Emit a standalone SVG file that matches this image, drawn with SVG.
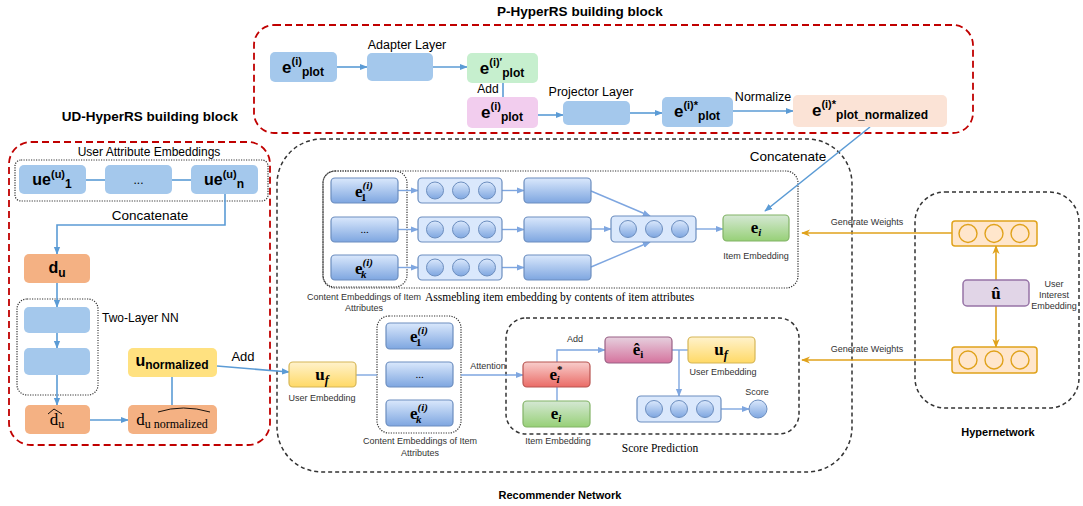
<svg xmlns="http://www.w3.org/2000/svg" width="1083" height="506" viewBox="0 0 1083 506">
<defs>
<style>
.t{font-family:"Liberation Sans",Arial,sans-serif;fill:#000}
.sm{font-family:"Liberation Sans",Arial,sans-serif;fill:#333;font-size:9px;text-anchor:middle}
.m{font-family:"Liberation Sans",Arial,sans-serif;font-weight:bold;fill:#000;text-anchor:middle}
.sf{font-family:"Liberation Serif","Times New Roman",serif;fill:#000}
.mf{font-family:"Liberation Serif","Times New Roman",serif;font-weight:bold;fill:#000;text-anchor:middle}
.red{fill:none;stroke:#c00000;stroke-width:1.8;stroke-dasharray:7 4}
.gd{fill:none;stroke:#333;stroke-width:1.5;stroke-dasharray:4 3}
.dot{fill:none;stroke:#333;stroke-width:1.2;stroke-dasharray:1.2 1.3}
.pb{fill:#a4c8ec}
.pg{fill:#c6efce}
.pp{fill:#f2cdee}
.pe{fill:#fbe3d6}
.po{fill:#f4b183}
.py{fill:#ffe180}
.c{stroke:#5b9bd5;stroke-width:1.6;fill:none}
.rc{stroke:#7ea6e0;stroke-width:1.4;fill:none}
.oc{stroke:#e0a21b;stroke-width:1.6;fill:none}
.rb{fill:url(#gB);stroke:#6c8ebf;stroke-width:1.2}
.row{fill:#dae8fc;stroke:#6c8ebf;stroke-width:1.2}
.cir{fill:url(#gB);stroke:#6c8ebf;stroke-width:1}
.rg{fill:url(#gG);stroke:#82b366;stroke-width:1.2}
.rr{fill:url(#gR);stroke:#b85450;stroke-width:1.2}
.rp{fill:url(#gP);stroke:#996185;stroke-width:1.2}
.ry{fill:url(#gY);stroke:#d6b656;stroke-width:1.2}
.ob{fill:#ffe6cc;stroke:#e0a21b;stroke-width:1.5}
.oci{fill:#ffe6cc;stroke:#e0a21b;stroke-width:1.4}
.pu{fill:#e1d5e7;stroke:#9673a6;stroke-width:1.5}
</style>
<linearGradient id="gB" x1="0" y1="0" x2="0" y2="1"><stop offset="0" stop-color="#dae8fc"/><stop offset="1" stop-color="#7ea6e0"/></linearGradient>
<linearGradient id="gG" x1="0" y1="0" x2="0" y2="1"><stop offset="0" stop-color="#d5e8d4"/><stop offset="1" stop-color="#97d077"/></linearGradient>
<linearGradient id="gR" x1="0" y1="0" x2="0" y2="1"><stop offset="0" stop-color="#f8cecc"/><stop offset="1" stop-color="#ea6b66"/></linearGradient>
<linearGradient id="gP" x1="0" y1="0" x2="0" y2="1"><stop offset="0" stop-color="#e6d0de"/><stop offset="1" stop-color="#d5739d"/></linearGradient>
<linearGradient id="gY" x1="0" y1="0" x2="0" y2="1"><stop offset="0" stop-color="#fff2cc"/><stop offset="1" stop-color="#ffd966"/></linearGradient>
<marker id="ab" viewBox="0 0 10 10" refX="9" refY="5" markerWidth="8" markerHeight="8" markerUnits="userSpaceOnUse" orient="auto"><path d="M0,1 L10,5 L0,9 z" fill="#5b9bd5"/></marker>
<marker id="ar" viewBox="0 0 10 10" refX="9" refY="5" markerWidth="8" markerHeight="8" markerUnits="userSpaceOnUse" orient="auto"><path d="M0,1 L10,5 L0,9 z" fill="#7ea6e0"/></marker>
<marker id="ao" viewBox="0 0 10 10" refX="9" refY="5" markerWidth="9" markerHeight="9" markerUnits="userSpaceOnUse" orient="auto"><path d="M0,1 L10,5 L0,9 L3,5 z" fill="#e0a21b"/></marker>
</defs>
<rect width="1083" height="506" fill="#fff"/>

<!-- containers -->
<g id="containers">
<text class="m" x="580" y="16" font-size="13.5">P-HyperRS building block</text>
<rect class="red" x="254" y="25" width="719" height="108" rx="20"/>
<text class="m" x="150" y="121" font-size="13.5">UD-HyperRS building block</text>
<rect class="red" x="9" y="142" width="261" height="303" rx="22"/>
<rect class="gd" x="277" y="139" width="575" height="333" rx="45"/>
<text class="m" x="560" y="499" font-size="11">Recommender Network</text>
<rect class="gd" x="915" y="192" width="164" height="216" rx="30"/>
<text class="m" x="998" y="436" font-size="11">Hypernetwork</text>
<rect class="dot" x="323" y="171" width="475" height="117" rx="12"/>
<rect class="dot" x="323" y="171" width="84" height="116" rx="12"/>
<rect class="dot" x="377" y="316" width="84" height="117" rx="12"/>
<rect class="gd" x="506" y="318" width="293" height="116" rx="20"/>
<rect class="dot" x="15" y="160" width="253" height="41" rx="6"/>
<rect class="dot" x="17" y="299" width="81" height="96" rx="10"/>
<text class="t" x="149" y="156" font-size="12" text-anchor="middle">User Attribute Embeddings</text>
<text class="t" x="102" y="322" font-size="12">Two-Layer NN</text>
<text class="sm" x="364" y="300">Content Embeddings of Item</text>
<text class="sm" x="364" y="311">Attributes</text>
<text class="sf" x="425" y="301" font-size="11.5">Assmebling item embedding by contents of item attributes</text>
<text class="sm" x="420" y="444">Content Embeddings of Item</text>
<text class="sm" x="420" y="456">Attributes</text>
<text class="sf" x="660" y="452" font-size="11.5" text-anchor="middle">Score Prediction</text>
</g>

<!-- connectors -->
<g id="connectors">
<line class="c" x1="337" y1="67" x2="367" y2="67" marker-end="url(#ab)"/>
<line class="c" x1="433" y1="67" x2="467" y2="67" marker-end="url(#ab)"/>
<line class="c" x1="503" y1="83" x2="503" y2="97"/>
<line class="c" x1="538" y1="115" x2="563" y2="115" marker-end="url(#ab)"/>
<line class="c" x1="630" y1="113" x2="662" y2="113" marker-end="url(#ab)"/>
<line class="c" x1="733" y1="111" x2="793" y2="111" marker-end="url(#ab)"/>
<line class="c" x1="870" y1="127" x2="765" y2="211" marker-end="url(#ab)"/>
<text class="t" x="488" y="93" font-size="12" text-anchor="middle">Add</text>
<text class="t" x="407" y="49" font-size="12.5" text-anchor="middle">Adapter Layer</text>
<text class="t" x="591" y="96" font-size="12.5" text-anchor="middle">Projector Layer</text>
<text class="t" x="763" y="101" font-size="12.5" text-anchor="middle">Normalize</text>
<text class="t" x="788" y="161" font-size="13.5" text-anchor="middle">Concatenate</text>

<line class="c" x1="86" y1="180" x2="105" y2="180"/>
<line class="c" x1="172" y1="180" x2="191" y2="180"/>
<path class="c" d="M225,194 V225 H57 V254" marker-end="url(#ab)"/>
<text class="t" x="150" y="220" font-size="13.5" text-anchor="middle">Concatenate</text>
<line class="c" x1="57" y1="283" x2="57" y2="307" marker-end="url(#ab)"/>
<line class="c" x1="57" y1="333" x2="57" y2="348" marker-end="url(#ab)"/>
<line class="c" x1="57" y1="375" x2="57" y2="405" marker-end="url(#ab)"/>
<line class="c" x1="90" y1="420" x2="128" y2="420" marker-end="url(#ab)"/>
<line class="c" x1="172" y1="377" x2="172" y2="405"/>
<line class="c" x1="217" y1="366" x2="289" y2="372" marker-end="url(#ab)"/>
<text class="t" x="243" y="361" font-size="13" text-anchor="middle">Add</text>

<line class="rc" x1="398" y1="190.5" x2="418" y2="190.5" marker-end="url(#ar)"/>
<line class="rc" x1="398" y1="229.5" x2="418" y2="229.5" marker-end="url(#ar)"/>
<line class="rc" x1="398" y1="267.5" x2="418" y2="267.5" marker-end="url(#ar)"/>
<line class="rc" x1="502" y1="190.5" x2="524" y2="190.5" marker-end="url(#ar)"/>
<line class="rc" x1="502" y1="229.5" x2="524" y2="229.5" marker-end="url(#ar)"/>
<line class="rc" x1="502" y1="267.5" x2="524" y2="267.5" marker-end="url(#ar)"/>
<line class="rc" x1="591" y1="191" x2="650" y2="216" marker-end="url(#ar)"/>
<line class="rc" x1="591" y1="229" x2="611" y2="229" marker-end="url(#ar)"/>
<line class="rc" x1="591" y1="267" x2="650" y2="242" marker-end="url(#ar)"/>
<line class="rc" x1="696" y1="229" x2="723" y2="229" marker-end="url(#ar)"/>

<line class="rc" x1="356" y1="375" x2="377" y2="375"/>
<line class="rc" x1="461" y1="375" x2="523" y2="375" marker-end="url(#ar)"/>
<text class="sm" x="488" y="369">Attention</text>
<line class="rc" x1="557" y1="387" x2="557" y2="401"/>
<path class="rc" d="M557,362 V350 H605" marker-end="url(#ar)"/>
<text class="sm" x="575" y="342">Add</text>
<line class="rc" x1="672" y1="350" x2="688" y2="350"/>
<path class="rc" d="M679,350 V396" marker-end="url(#ar)"/>
<line class="rc" x1="721" y1="409" x2="749" y2="409" marker-end="url(#ar)"/>

<line class="oc" x1="952" y1="233" x2="802" y2="233" marker-end="url(#ao)"/>
<text class="sm" x="867" y="225">Generate Weights</text>
<line class="oc" x1="952" y1="360" x2="802" y2="360" marker-end="url(#ao)"/>
<text class="sm" x="867" y="352">Generate Weights</text>
<line class="oc" x1="996" y1="280" x2="996" y2="246" marker-end="url(#ao)"/>
<line class="oc" x1="996" y1="306" x2="996" y2="347" marker-end="url(#ao)"/>
</g>

<!-- P-HyperRS nodes -->
<g id="p-plot">
<rect class="pb" x="270" y="52" width="67" height="30" rx="5"/>
<text class="m" x="303" y="73"><tspan font-size="17">e</tspan><tspan font-size="11" dy="-8">(i)</tspan><tspan font-size="12" dy="11">plot</tspan></text>
</g>
<g id="p-adapter"><rect class="pb" x="367" y="53" width="66" height="28" rx="5"/></g>
<g id="p-plot-prime">
<rect class="pg" x="467" y="53" width="71" height="30" rx="5"/>
<text class="m" x="502" y="74"><tspan font-size="17">e</tspan><tspan font-size="11" dy="-8">(i)′</tspan><tspan font-size="12" dy="11">plot</tspan></text>
</g>
<g id="p-plot2">
<rect class="pp" x="467" y="97" width="71" height="31" rx="5"/>
<text class="m" x="502" y="118"><tspan font-size="17">e</tspan><tspan font-size="11" dy="-8">(i)</tspan><tspan font-size="12" dy="11">plot</tspan></text>
</g>
<g id="p-projector"><rect class="pb" x="563" y="101" width="67" height="24" rx="5"/></g>
<g id="p-plot-star">
<rect class="pb" x="662" y="97" width="71" height="30" rx="5"/>
<text class="m" x="697" y="117"><tspan font-size="17">e</tspan><tspan font-size="11" dy="-8">(i)*</tspan><tspan font-size="12" dy="11">plot</tspan></text>
</g>
<g id="p-normalized">
<rect class="pe" x="793" y="95" width="154" height="32" rx="5"/>
<text class="m" x="870" y="116"><tspan font-size="17">e</tspan><tspan font-size="11" dy="-8">(i)*</tspan><tspan font-size="12" dy="11">plot_normalized</tspan></text>
</g>

<!-- UD-HyperRS nodes -->
<g id="ud-ue1">
<rect class="pb" x="19" y="165" width="67" height="29" rx="5"/>
<text class="m" x="52" y="185"><tspan font-size="16">ue</tspan><tspan font-size="11" dy="-7">(u)</tspan><tspan font-size="12" dy="10">1</tspan></text>
</g>
<g id="ud-dots">
<rect class="pb" x="105" y="165" width="67" height="29" rx="5"/>
<text class="t" x="138.5" y="184" font-size="12" text-anchor="middle">...</text>
</g>
<g id="ud-uen">
<rect class="pb" x="191" y="165" width="67" height="29" rx="5"/>
<text class="m" x="224" y="185"><tspan font-size="16">ue</tspan><tspan font-size="11" dy="-7">(u)</tspan><tspan font-size="12" dy="10">n</tspan></text>
</g>
<g id="ud-du">
<rect class="po" x="24" y="254" width="66" height="29" rx="5"/>
<text class="m" x="57" y="273"><tspan font-size="16">d</tspan><tspan font-size="12" dy="4">u</tspan></text>
</g>
<g id="ud-nn1"><rect class="pb" x="24" y="307" width="66" height="26" rx="5"/></g>
<g id="ud-nn2"><rect class="pb" x="24" y="348" width="66" height="27" rx="5"/></g>
<g id="ud-duhat">
<rect class="po" x="25" y="405" width="65" height="29" rx="5"/>
<text class="sf" x="57" y="425" font-size="17" text-anchor="middle">d<tspan font-size="12" dy="3">u</tspan></text>
<path d="M48,414 L54,409 L62,414" fill="none" stroke="#000" stroke-width="0.9"/>
</g>
<g id="ud-dunorm">
<rect class="po" x="128" y="405" width="89" height="29" rx="5"/>
<text class="sf" x="172" y="425" font-size="17" text-anchor="middle">d<tspan font-size="12" dy="3">u normalized</tspan></text>
<path d="M158,412 Q183,404 210,412" fill="none" stroke="#000" stroke-width="0.9"/>
</g>
<g id="ud-unorm">
<rect class="py" x="128" y="348" width="89" height="29" rx="5"/>
<text class="m" x="172" y="366"><tspan font-size="16">u</tspan><tspan font-size="12" dy="3">normalized</tspan></text>
</g>

<!-- Recommender: assembling -->
<g id="r-e1">
<rect class="rb" x="331" y="178" width="67" height="25" rx="4"/>
<text class="mf" x="364" y="197"><tspan font-size="17">e</tspan><tspan font-size="11" dy="-8" font-style="italic">(i)</tspan><tspan font-size="11" dx="-12" dy="12">1</tspan></text>
</g>
<g id="r-edots">
<rect class="rb" x="331" y="217" width="67" height="25" rx="4"/>
<text class="sf" x="364.5" y="233" font-size="11" text-anchor="middle">...</text>
</g>
<g id="r-ek">
<rect class="rb" x="331" y="255" width="67" height="25" rx="4"/>
<text class="mf" x="364" y="274"><tspan font-size="17">e</tspan><tspan font-size="11" dy="-8" font-style="italic">(i)</tspan><tspan font-size="11" font-style="italic" dx="-12" dy="12">k</tspan></text>
</g>
<g id="r-row1"><rect class="row" x="418" y="178" width="84" height="25" rx="4"/><circle class="cir" cx="435" cy="190.5" r="8.5"/><circle class="cir" cx="461" cy="190.5" r="8.5"/><circle class="cir" cx="487" cy="190.5" r="8.5"/></g>
<g id="r-row2"><rect class="row" x="418" y="217" width="84" height="25" rx="4"/><circle class="cir" cx="435" cy="229.5" r="8.5"/><circle class="cir" cx="461" cy="229.5" r="8.5"/><circle class="cir" cx="487" cy="229.5" r="8.5"/></g>
<g id="r-row3"><rect class="row" x="418" y="255" width="84" height="25" rx="4"/><circle class="cir" cx="435" cy="267.5" r="8.5"/><circle class="cir" cx="461" cy="267.5" r="8.5"/><circle class="cir" cx="487" cy="267.5" r="8.5"/></g>
<g id="r-l1"><rect class="rb" x="524" y="178" width="67" height="25" rx="4"/></g>
<g id="r-l2"><rect class="rb" x="524" y="217" width="67" height="25" rx="4"/></g>
<g id="r-l3"><rect class="rb" x="524" y="255" width="67" height="25" rx="4"/></g>
<g id="r-merge"><rect class="row" x="611" y="216" width="85" height="26" rx="4"/><circle class="cir" cx="628" cy="229" r="8.5"/><circle class="cir" cx="654" cy="229" r="8.5"/><circle class="cir" cx="680" cy="229" r="8.5"/></g>
<g id="r-ei">
<rect class="rg" x="723" y="215" width="66" height="26" rx="4"/>
<text class="mf" x="756" y="233"><tspan font-size="17">e</tspan><tspan font-size="11" font-style="italic" dy="3">i</tspan></text>
<text class="sm" x="756" y="259">Item  Embedding</text>
</g>

<!-- Recommender: lower -->
<g id="r-uf">
<rect class="ry" x="289" y="362" width="67" height="25" rx="4"/>
<text class="mf" x="322" y="380"><tspan font-size="17">u</tspan><tspan font-size="12" font-style="italic" dy="4">f</tspan></text>
<text class="sm" x="322" y="401">User Embedding</text>
</g>
<g id="r-c1">
<rect class="rb" x="386" y="323" width="67" height="26" rx="4"/>
<text class="mf" x="419" y="342"><tspan font-size="17">e</tspan><tspan font-size="11" dy="-8" font-style="italic">(i)</tspan><tspan font-size="11" dx="-12" dy="12">1</tspan></text>
</g>
<g id="r-cdots">
<rect class="rb" x="386" y="362" width="67" height="25" rx="4"/>
<text class="sf" x="419.5" y="378" font-size="11" text-anchor="middle">...</text>
</g>
<g id="r-ck">
<rect class="rb" x="386" y="400" width="67" height="26" rx="4"/>
<text class="mf" x="419" y="419"><tspan font-size="17">e</tspan><tspan font-size="11" dy="-8" font-style="italic">(i)</tspan><tspan font-size="11" font-style="italic" dx="-12" dy="12">k</tspan></text>
</g>
<g id="r-estar">
<rect class="rr" x="523" y="362" width="67" height="25" rx="4"/>
<text class="mf" x="556" y="380"><tspan font-size="17">e</tspan><tspan font-size="11" dy="-7">*</tspan><tspan font-size="11" font-style="italic" dx="-6" dy="10">i</tspan></text>
</g>
<g id="r-ei2">
<rect class="rg" x="523" y="401" width="67" height="26" rx="4"/>
<text class="mf" x="556" y="419"><tspan font-size="17">e</tspan><tspan font-size="11" font-style="italic" dy="3">i</tspan></text>
<text class="sm" x="558" y="444">Item  Embedding</text>
</g>
<g id="r-ehat">
<rect class="rp" x="605" y="337" width="67" height="26" rx="4"/>
<text class="mf" x="638" y="355"><tspan font-size="17">ê</tspan><tspan font-size="11" dy="3">i</tspan></text>
</g>
<g id="r-uf2">
<rect class="ry" x="688" y="337" width="67" height="26" rx="4"/>
<text class="mf" x="721" y="355"><tspan font-size="17">u</tspan><tspan font-size="12" font-style="italic" dy="4">f</tspan></text>
<text class="sm" x="723" y="375">User  Embedding</text>
</g>
<g id="r-srow"><rect class="row" x="637" y="396" width="84" height="26" rx="4"/><circle class="cir" cx="654" cy="409" r="8.5"/><circle class="cir" cx="679" cy="409" r="8.5"/><circle class="cir" cx="705" cy="409" r="8.5"/></g>
<g id="r-score">
<circle class="cir" cx="758" cy="409" r="9"/>
<text class="sm" x="757" y="395">Score</text>
</g>

<!-- Hypernetwork -->
<g id="h-top"><rect class="ob" x="952" y="221" width="85" height="25" rx="3"/><circle class="oci" cx="968" cy="233.5" r="9"/><circle class="oci" cx="994" cy="233.5" r="9"/><circle class="oci" cx="1020" cy="233.5" r="9"/></g>
<g id="h-u">
<rect class="pu" x="963" y="280" width="66" height="26" rx="4"/>
<text class="mf" x="996" y="299" font-size="17">û</text>
<text class="sm" x="1054" y="287">User</text>
<text class="sm" x="1054" y="298">Interest</text>
<text class="sm" x="1054" y="309">Embedding</text>
</g>
<g id="h-bot"><rect class="ob" x="952" y="347" width="85" height="26" rx="3"/><circle class="oci" cx="968" cy="360" r="9"/><circle class="oci" cx="994" cy="360" r="9"/><circle class="oci" cx="1020" cy="360" r="9"/></g>
</svg>
